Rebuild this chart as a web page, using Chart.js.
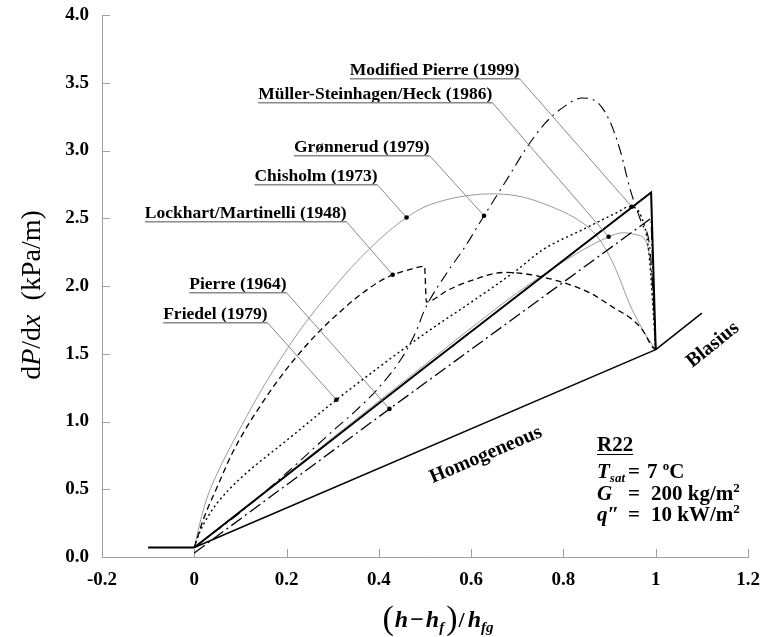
<!DOCTYPE html>
<html><head><meta charset="utf-8">
<script src="https://cdn.jsdelivr.net/npm/chart.js@4"></script>
<style>html,body{margin:0;padding:0;background:#fff;}canvas{display:block;}</style>
</head><body>
<canvas id="c" width="763" height="637"></canvas>
<script>
// ---------------- data ----------------
const xTickValues = [-0.2, 0, 0.2, 0.4, 0.6, 0.8, 1.0, 1.2];
const xTickLabels = ["-0.2", "0", "0.2", "0.4", "0.6", "0.8", "1", "1.2"];
const yTickValues = [0, 0.5, 1, 1.5, 2, 2.5, 3, 3.5, 4];
const yTickLabels = ["0.0", "0.5", "1.0", "1.5", "2.0", "2.5", "3.0", "3.5", "4.0"];

const liquidX = [-0.1, 0];
const liquidY = [0.07, 0.07];
const homogeneousX = [0, 1];
const homogeneousY = [0.07, 1.53];
const blasiusX = [1, 1.1];
const blasiusY = [1.53, 1.8];

const modPierreX = [0, 0.5, 0.99, 1.0];
const modPierreY = [0.07, 1.40, 2.69, 1.53];

const mshX = [0, 0.1, 0.2, 0.3, 0.4, 0.5, 0.6, 0.7, 0.8, 0.898, 0.928, 0.958, 0.98, 0.993, 1.0];
const mshY = [0.07, 0.34, 0.61, 0.88, 1.15, 1.42, 1.69, 1.95, 2.18, 2.363, 2.393, 2.378, 2.32, 2.0, 1.53];

const chisholmX = [0, 0.01, 0.026, 0.05, 0.092, 0.14, 0.202, 0.25, 0.308, 0.34, 0.38, 0.42, 0.46, 0.5, 0.55, 0.6, 0.64, 0.7, 0.763, 0.841, 0.872, 0.9, 0.92, 0.943, 0.965, 0.98, 1.0];
const chisholmY = [0.07, 0.22, 0.42, 0.62, 0.9, 1.2, 1.54, 1.77, 2.01, 2.135, 2.275, 2.4, 2.505, 2.585, 2.64, 2.67, 2.68, 2.665, 2.6, 2.467, 2.37, 2.22, 2.07, 1.87, 1.72, 1.63, 1.53];

const lockhartX = [0, 0.02, 0.05, 0.08, 0.114, 0.146, 0.174, 0.222, 0.271, 0.321, 0.352, 0.402, 0.43, 0.46, 0.499, 0.503, 0.55, 0.6, 0.672, 0.75, 0.857, 0.906, 0.95, 0.971, 0.993, 1.0];
const lockhartY = [0.07, 0.28, 0.52, 0.75, 0.96, 1.13, 1.27, 1.48, 1.665, 1.825, 1.915, 2.035, 2.083, 2.115, 2.145, 1.883, 1.97, 2.04, 2.1, 2.07, 1.95, 1.846, 1.75, 1.677, 1.55, 1.53];

const friedelX = [0, 0.01, 0.03, 0.05, 0.1, 0.2, 0.308, 0.4, 0.5, 0.6, 0.7, 0.755, 0.841, 0.915, 0.943, 0.969, 0.985, 1.0];
const friedelY = [0.07, 0.17, 0.3, 0.4, 0.58, 0.86, 1.16, 1.4, 1.65, 1.88, 2.12, 2.267, 2.415, 2.54, 2.585, 2.51, 2.25, 1.53];

const gronnerudX = [0, 0.1, 0.2, 0.3, 0.35, 0.4, 0.45, 0.48, 0.5, 0.55, 0.583, 0.628, 0.68, 0.72, 0.76, 0.8, 0.84, 0.872, 0.9, 0.923, 0.945, 0.97, 0.988, 1.0];
const gronnerudY = [0.07, 0.33, 0.62, 0.93, 1.08, 1.25, 1.47, 1.66, 1.83, 2.11, 2.27, 2.518, 2.8, 3.02, 3.2, 3.32, 3.387, 3.36, 3.22, 3.0, 2.71, 2.46, 2.26, 1.53];

const pierreX = [0, 0.423, 0.99, 1.0];
const pierreY = [0.03, 1.093, 2.5, 1.53];

// ---------------- styling / layout ----------------
const FONT = "'Liberation Serif', 'Times New Roman', serif";
const AXIS = '#a0a0a0';
const pts = (xs, ys) => xs.map((x, i) => ({x: x, y: ys[i]}));

const datasets = [
  {data: pts(modPierreX, modPierreY), borderColor: '#000', borderWidth: 2},
  {data: pts(pierreX, pierreY), borderColor: '#000', borderWidth: 1.3, borderDash: [13, 4, 2, 4]},
  {data: pts(gronnerudX, gronnerudY), borderColor: '#000', borderWidth: 1.1, borderDash: [11, 5, 2, 5], cubicInterpolationMode: 'monotone'},
  {data: pts(friedelX, friedelY), borderColor: '#000', borderWidth: 1.4, borderDash: [2, 3], cubicInterpolationMode: 'monotone'},
  {data: pts(lockhartX, lockhartY), borderColor: '#000', borderWidth: 1.3, borderDash: [6, 4], cubicInterpolationMode: 'monotone'},
  {data: pts(homogeneousX, homogeneousY), borderColor: '#000', borderWidth: 1.5},
  {data: pts(blasiusX, blasiusY), borderColor: '#000', borderWidth: 1.5},
  {data: pts(liquidX, liquidY), borderColor: '#000', borderWidth: 1.8},
  {data: pts(mshX, mshY), borderColor: '#9a9a9a', borderWidth: 1, cubicInterpolationMode: 'monotone'},
  {data: pts(chisholmX, chisholmY), borderColor: '#9a9a9a', borderWidth: 1, cubicInterpolationMode: 'monotone'}
].map(d => Object.assign({showLine: true, fill: false, pointRadius: 0, tension: 0}, d));

const callouts = [
  {text: "Modified Pierre (1999)", lx: 0.705, ly: 3.530, px: 0.948, py: 2.585},
  {text: "Müller-Steinhagen/Heck (1986)", lx: 0.646, ly: 3.353, px: 0.898, py: 2.363},
  {text: "Grønnerud (1979)", lx: 0.510, ly: 2.962, px: 0.628, py: 2.518},
  {text: "Chisholm (1973)", lx: 0.397, ly: 2.747, px: 0.46, py: 2.505},
  {text: "Lockhart/Martinelli (1948)", lx: 0.330, ly: 2.474, px: 0.43, py: 2.083},
  {text: "Pierre (1964)", lx: 0.200, ly: 1.950, px: 0.423, py: 1.093},
  {text: "Friedel (1979)", lx: 0.159, ly: 1.728, px: 0.308, py: 1.16}
];

function drawRich(ctx, segs, x, y, align) {
  let total = 0;
  segs.forEach(s => { ctx.font = s.font; s.w = ctx.measureText(s.t).width; total += s.w + (s.gap || 0); });
  let cx = align === 'center' ? x - total / 2 : (align === 'right' ? x - total : x);
  segs.forEach(s => { ctx.font = s.font; ctx.fillText(s.t, cx, y + (s.dy || 0)); cx += s.w + (s.gap || 0); });
  return total;
}

const overlay = {
  id: 'overlay',
  beforeDatasetsDraw(chart) {
    const {ctx, scales: {x, y}, chartArea: ca} = chart;
    ctx.save();
    ctx.strokeStyle = AXIS; ctx.lineWidth = 1;
    xTickValues.forEach(v => { const p = Math.round(x.getPixelForValue(v)) + 0.5; ctx.beginPath(); ctx.moveTo(p, ca.bottom); ctx.lineTo(p, ca.bottom - 8); ctx.stroke(); });
    yTickValues.forEach(v => { const p = Math.round(y.getPixelForValue(v)) + 0.5; ctx.beginPath(); ctx.moveTo(ca.left, p); ctx.lineTo(ca.left + 8, p); ctx.stroke(); });
    ctx.restore();
  },
  afterDraw(chart) {
    const {ctx, scales: {x, y}} = chart;
    ctx.save();
    ctx.textAlign = 'left'; ctx.textBaseline = 'alphabetic'; ctx.fillStyle = '#000';
    // callouts
    callouts.forEach(c => {
      const rx = x.getPixelForValue(c.lx), uy = y.getPixelForValue(c.ly);
      const dx = x.getPixelForValue(c.px), dy = y.getPixelForValue(c.py);
      ctx.font = 'bold 17.5px ' + FONT;
      const w = ctx.measureText(c.text).width;
      ctx.fillStyle = '#000';
      ctx.fillText(c.text, rx - w, uy - 4);
      ctx.strokeStyle = '#8a8a8a'; ctx.lineWidth = 1.5;
      ctx.beginPath(); ctx.moveTo(rx - w, uy); ctx.lineTo(rx, uy); ctx.stroke();
      ctx.strokeStyle = '#7a7a7a'; ctx.lineWidth = 0.9;
      ctx.beginPath(); ctx.moveTo(rx, uy); ctx.lineTo(dx, dy); ctx.stroke();
      ctx.beginPath(); ctx.arc(dx, dy, 2.3, 0, Math.PI * 2); ctx.fill();
    });
    // rotated line labels
    const rot = (txt, cxv, cyv, angDeg) => {
      ctx.save();
      ctx.translate(x.getPixelForValue(cxv), y.getPixelForValue(cyv));
      ctx.rotate(angDeg * Math.PI / 180);
      ctx.font = 'bold 20px ' + FONT; ctx.textAlign = 'center'; ctx.textBaseline = 'middle';
      ctx.fillText(txt, 0, 0);
      ctx.restore();
    };
    rot('Homogeneous', 0.632, 0.753, -23.2);
    rot('Blasius', 1.124, 1.566, -38.8);

    // y axis title
    ctx.save();
    ctx.translate(31, 295); ctx.rotate(-Math.PI / 2);
    drawRich(ctx, [
      {t: 'd', font: '28px ' + FONT},
      {t: 'P', font: 'italic 28px ' + FONT},
      {t: '/d', font: '28px ' + FONT},
      {t: 'x', font: 'italic 28px ' + FONT},
      {t: '  (kPa/m)', font: '28px ' + FONT}
    ], 0, 9, 'center');
    ctx.restore();

    // x axis title
    const BI = 'bold italic 24px ' + FONT, SB = 'bold italic 15px ' + FONT;
    drawRich(ctx, [
      {t: '(', font: '34px ' + FONT, dy: 2, gap: 1},
      {t: 'h', font: BI, gap: 2},
      {t: '\u2212', font: 'bold 24px ' + FONT, gap: 2},
      {t: 'h', font: BI},
      {t: 'f', font: SB, dy: 5, gap: 2},
      {t: ')', font: '34px ' + FONT, dy: 2, gap: 1},
      {t: '/', font: 'bold 22px ' + FONT, gap: 3},
      {t: 'h', font: BI},
      {t: 'fg', font: SB, dy: 5}
    ], 438, 627, 'center');

    // condition box
    const R = 'bold 21px ' + FONT, I = 'bold italic 21px ' + FONT, S = 'bold 13px ' + FONT, SI = 'bold italic 13px ' + FONT;
    const L0 = 597, EQ = 628, V0 = 651;
    ctx.font = 'bold 21px ' + FONT; ctx.fillText('R22', L0, 451);
    const rw = ctx.measureText('R22').width;
    ctx.strokeStyle = '#000'; ctx.lineWidth = 1;
    ctx.beginPath(); ctx.moveTo(L0, 454.5); ctx.lineTo(L0 + rw, 454.5); ctx.stroke();
    drawRich(ctx, [{t: 'T', font: I}, {t: 'sat', font: SI, dy: 4}], L0, 478, 'left');
    drawRich(ctx, [{t: 'G', font: I}], L0, 500, 'left');
    drawRich(ctx, [{t: 'q\u2033', font: I}], L0, 521, 'left');
    ctx.font = R;
    ctx.fillText('=', EQ, 478); ctx.fillText('=', EQ, 500); ctx.fillText('=', EQ, 521);
    drawRich(ctx, [{t: '7 ', font: R}, {t: 'o', font: S, dy: -8}, {t: 'C', font: R}], V0 - 4, 478, 'left');
    drawRich(ctx, [{t: '200 kg/m', font: R}, {t: '2', font: S, dy: -8}], V0, 500, 'left');
    drawRich(ctx, [{t: '10 kW/m', font: R}, {t: '2', font: S, dy: -8}], V0, 521, 'left');
    ctx.restore();
  }
};

new Chart(document.getElementById('c').getContext('2d'), {
  type: 'scatter',
  data: {datasets: datasets},
  options: {
    responsive: false, animation: false, devicePixelRatio: 1,
    layout: {padding: {top: 15, right: 15, left: 0, bottom: 0}},
    plugins: {legend: {display: false}, tooltip: {enabled: false}},
    scales: {
      x: {
        type: 'linear', min: -0.2, max: 1.2,
        afterBuildTicks: s => { s.ticks = xTickValues.map(v => ({value: v})); },
        afterFit: s => { s.height = 80; s.paddingLeft = 0; s.paddingRight = 0; },
        grid: {display: false, drawTicks: false},
        border: {display: true, color: AXIS, width: 1},
        ticks: {callback: (v, i) => xTickLabels[i], font: {family: FONT, size: 19, weight: 'bold'}, color: '#000', padding: 12, maxRotation: 0, autoSkip: false}
      },
      y: {
        type: 'linear', min: 0, max: 4,
        afterBuildTicks: s => { s.ticks = yTickValues.map(v => ({value: v})); },
        afterFit: s => { s.width = 102; s.paddingTop = 0; s.paddingBottom = 0; },
        grid: {display: false, drawTicks: false},
        border: {display: true, color: AXIS, width: 1},
        ticks: {callback: (v, i) => yTickLabels[i], font: {family: FONT, size: 19, weight: 'bold'}, color: '#000', padding: 13, autoSkip: false}
      }
    }
  },
  plugins: [overlay]
});
</script>
</body></html>
